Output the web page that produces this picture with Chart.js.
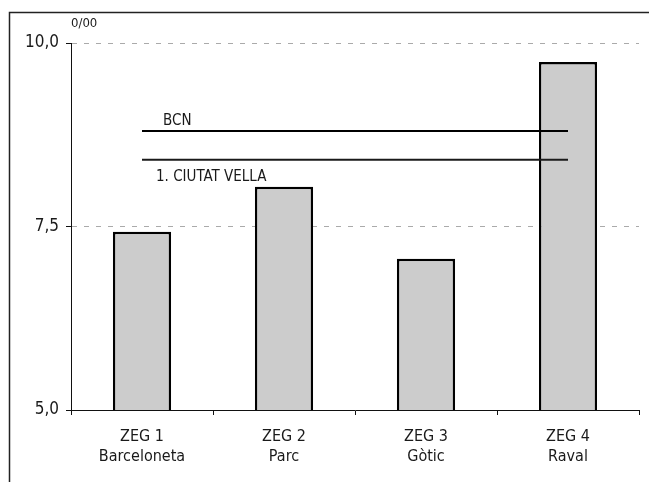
<!DOCTYPE html>
<html lang="ca">
<head>
<meta charset="UTF-8">
<title>ZEG Ciutat Vella</title>
<script src="https://cdn.jsdelivr.net/npm/chart.js@4.4.0/dist/chart.umd.min.js"></script>
<style>
    html, body {
        margin: 0;
        padding: 0;
        background: #fff;
    }
    .wrap {
        position: relative;
        width: 649px;
        height: 482px;
    }
</style>
</head>
<body>
<div class="wrap">
    <canvas id="chart" width="649" height="482"></canvas>
</div>
<script>
// data
const zones = ['ZEG 1', 'ZEG 2', 'ZEG 3', 'ZEG 4'];
const zoneNames = ['Barceloneta', 'Parc', 'Gòtic', 'Raval'];
const zoneValues = [7.43, 8.04, 7.06, 9.74];
const bcnValues = [8.80, 8.80, 8.80, 8.80];
const ciutatVellaValues = [8.41, 8.41, 8.41, 8.41];
const yTickValues = [5, 7.5, 10];
const unitLabel = '0/00';
const bcnLabel = 'BCN';
const cvLabel = '1. CIUTAT VELLA';

const FONT = "'Liberation Sans Narrow', 'DejaVu Sans Condensed', sans-serif";

// outer frame + unit label + line captions
const decorations = {
    id: 'decorations',
    beforeDraw(chart) {
        const ctx = chart.ctx;
        ctx.save();
        ctx.strokeStyle = '#222';
        ctx.lineWidth = 1.5;
        ctx.strokeRect(9.5, 12.5, 800, 600);
        ctx.restore();
    },
    afterDraw(chart) {
        const ctx = chart.ctx;
        const area = chart.chartArea;
        ctx.save();
        ctx.fillStyle = '#1a1a1a';
        ctx.font = '13px ' + FONT;
        ctx.textAlign = 'left';
        ctx.textBaseline = 'bottom';
        ctx.fillText(unitLabel, area.left, area.top - 13);

        ctx.font = '15px ' + FONT;
        const bcn = chart.getDatasetMeta(1).data[0];
        ctx.textBaseline = 'bottom';
        ctx.fillText(bcnLabel, bcn.x + 21, bcn.y - 2);
        const cv = chart.getDatasetMeta(2).data[0];
        ctx.textBaseline = 'top';
        ctx.fillText(cvLabel, cv.x + 14, cv.y + 10);
        ctx.restore();
    }
};

new Chart(document.getElementById('chart'), {
    type: 'bar',
    data: {
        labels: zones.map((z, i) => [z, zoneNames[i]]),
        datasets: [
            {
                type: 'bar',
                data: zoneValues,
                backgroundColor: '#cccccc',
                borderColor: '#000',
                borderWidth: 2.5,
                barPercentage: 0.41,
                categoryPercentage: 1,
                order: 2
            },
            {
                type: 'line',
                data: bcnValues,
                borderColor: '#000',
                borderWidth: 2,
                pointRadius: 0,
                order: 1
            },
            {
                type: 'line',
                data: ciutatVellaValues,
                borderColor: '#1a1a1a',
                borderWidth: 2,
                pointRadius: 0,
                order: 1
            }
        ]
    },
    options: {
        responsive: false,
        animation: false,
        events: [],
        layout: {
            padding: { top: 43, right: 10, left: 0, bottom: 0 }
        },
        plugins: {
            legend: { display: false },
            tooltip: { enabled: false }
        },
        scales: {
            x: {
                offset: true,
                afterFit: s => { s.height = 72; },
                grid: {
                    offset: true,
                    drawOnChartArea: false,
                    tickLength: 5,
                    tickColor: '#111'
                },
                border: { color: '#111', width: 1 },
                ticks: {
                    color: '#1a1a1a',
                    padding: 12,
                    maxRotation: 0,
                    font: { family: FONT, size: 16, lineHeight: 1.25 }
                }
            },
            y: {
                min: 5,
                max: 10,
                afterFit: s => { s.width = 71; },
                afterBuildTicks: s => { s.ticks = yTickValues.map(v => ({ value: v })); },
                grid: {
                    color: '#aaa',
                    tickColor: '#111',
                    tickLength: 5,
                    tickBorderDash: []
                },
                border: { color: '#111', width: 1, dash: [5, 7] },
                ticks: {
                    color: '#1a1a1a',
                    padding: 7,
                    font: { family: FONT, size: 17 },
                    callback: v => v.toFixed(1).replace('.', ',')
                }
            }
        }
    },
    plugins: [decorations]
});
</script>
</body>
</html>
